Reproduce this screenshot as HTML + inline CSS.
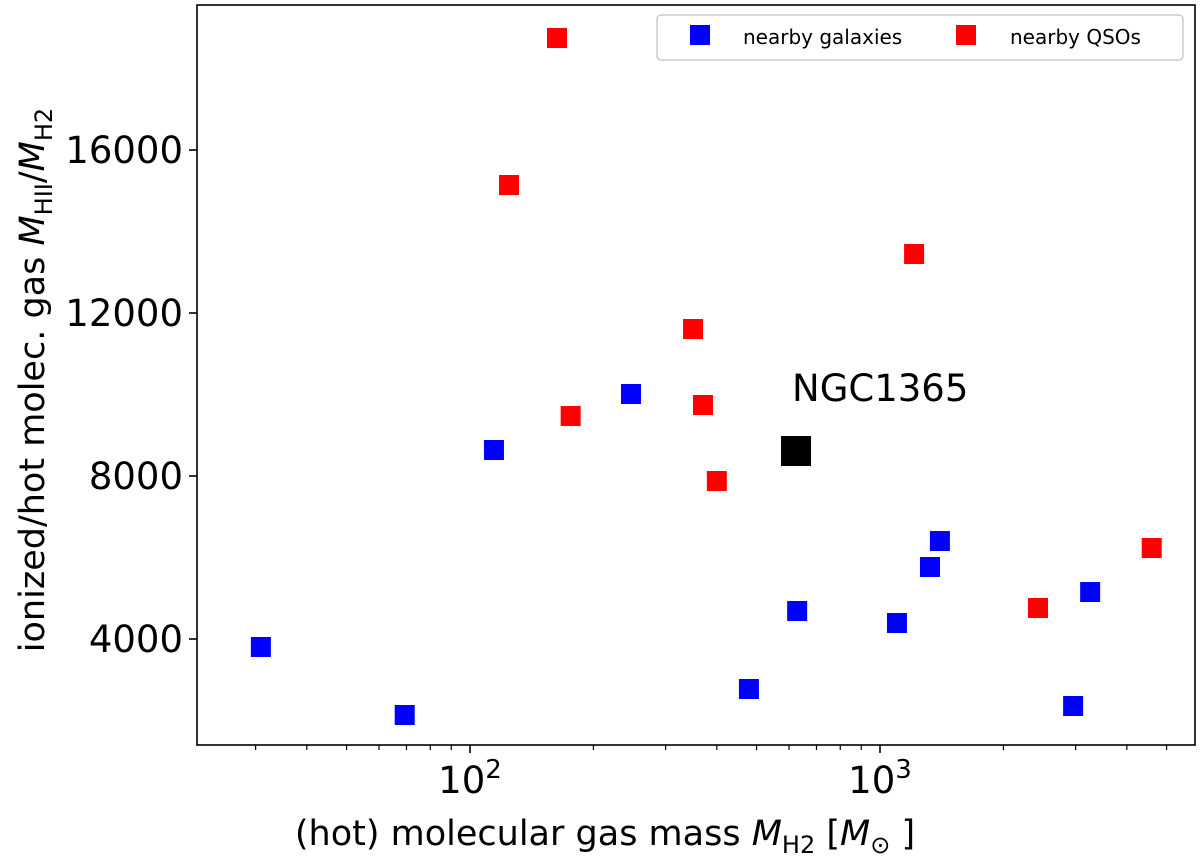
<!DOCTYPE html>
<html><head><meta charset="utf-8"><style>
body{margin:0;background:#fff;}
svg{display:block;font-family:"DejaVu Sans","Liberation Sans",sans-serif;}
</style></head><body>
<svg id="chart" width="1200" height="867"></svg>
<script>
const galaxyX=[30.9,69.3,114.4,247,479,628,1100,1324,1400,2958,3255];
const galaxyY=[3804,2135,8638,10012,2773,4687,4393,5767,6405,2356,5153];
const qsoX=[163,124.5,176,350,370,400,1211,2429,4600];
const qsoY=[18748,15141,9472,11607,9742,7877,13448,4761,6233];
const ngcX=[624];
const ngcY=[8613];
const yTicks=[4000,8000,12000,16000];
const xMajor=[100,1000];
const xMinor=[30,40,50,60,70,80,90,200,300,400,500,600,700,800,900,2000,3000,4000,5000];
const L=197,R=1195,T=5,B=745;
const xs=v=>470+(Math.log10(v)-2)*410;
const ys=v=>639-(v-4000)*0.04075;
const svg=document.getElementById('chart');
const NS='http://www.w3.org/2000/svg';
function mk(t,a,p){const e=document.createElementNS(NS,t);for(const k in a)e.setAttribute(k,a[k]);(p||svg).appendChild(e);return e;}
let e;
e=mk('rect',{x:L,y:T,width:R-L,height:B-T,fill:'none',stroke:'#000','stroke-width':1.6});


yTicks.forEach(v=>{
 const y=ys(v);
 e=mk('line',{x1:L-8,x2:L,y1:y,y2:y,stroke:'#000','stroke-width':1.6});
 
 
 e=mk('text',{x:L-14,y:y+13,'text-anchor':'end','font-size':37});e.textContent=v;
 
 
});
xMajor.forEach(v=>{
 const x=xs(v);
 e=mk('line',{x1:x,x2:x,y1:B,y2:B+8,stroke:'#000','stroke-width':1.6});
 
 
 e=mk('text',{x:x,y:B+48,'text-anchor':'middle','font-size':37});
 e.innerHTML='10<tspan dy="-15" font-size="26">'+Math.round(Math.log10(v))+'</tspan>';
 
 
});
xMinor.forEach(v=>{
 const x=xs(v);
 e=mk('line',{x1:x,x2:x,y1:B,y2:B+5,stroke:'#000','stroke-width':1.2});
 
 
});
function pts(X,Y,c,s,name){X.forEach((v,i)=>{
 e=mk('rect',{x:xs(v)-s/2,y:ys(Y[i])-s/2,width:s,height:s,fill:c});
 
 
});}
pts(galaxyX,galaxyY,'#0000ff',20,'galaxy-point');
pts(qsoX,qsoY,'#ff0000',20,'qso-point');
pts(ngcX,ngcY,'#000',30,'ngc1365-point');
e=mk('text',{x:xs(ngcX[0])-4,y:ys(ngcY[0])-50,'font-size':37});e.textContent='NGC1365';


e=mk('text',{x:605,y:845,'text-anchor':'middle','font-size':35});
e.innerHTML='(hot) molecular gas mass <tspan font-style="italic">M</tspan><tspan font-size="24" dy="8">H2</tspan><tspan dy="-8"> [</tspan><tspan font-style="italic">M</tspan><tspan font-size="24" dy="8">⊙</tspan><tspan dy="-8"> ]</tspan>';


e=mk('text',{x:0,y:0,'text-anchor':'middle','font-size':35,transform:'translate(44,380) rotate(-90)'});
e.innerHTML='ionized/hot molec. gas <tspan font-style="italic">M</tspan><tspan font-size="24" dy="8">HII</tspan><tspan dy="-8">/</tspan><tspan font-style="italic">M</tspan><tspan font-size="24" dy="8">H2</tspan>';


const g=mk('g',{});


mk('rect',{x:657,y:15,width:526,height:45,rx:4,fill:'#fff',stroke:'#ccc','stroke-width':1.5},g);
e=mk('rect',{x:690,y:25,width:20,height:20,fill:'#0000ff'},g);


e=mk('text',{x:743,y:44,'font-size':20},g);e.textContent='nearby galaxies';


e=mk('rect',{x:956,y:25,width:20,height:20,fill:'#ff0000'},g);


e=mk('text',{x:1010,y:44,'font-size':20},g);e.textContent='nearby QSOs';


</script>
</body></html>
